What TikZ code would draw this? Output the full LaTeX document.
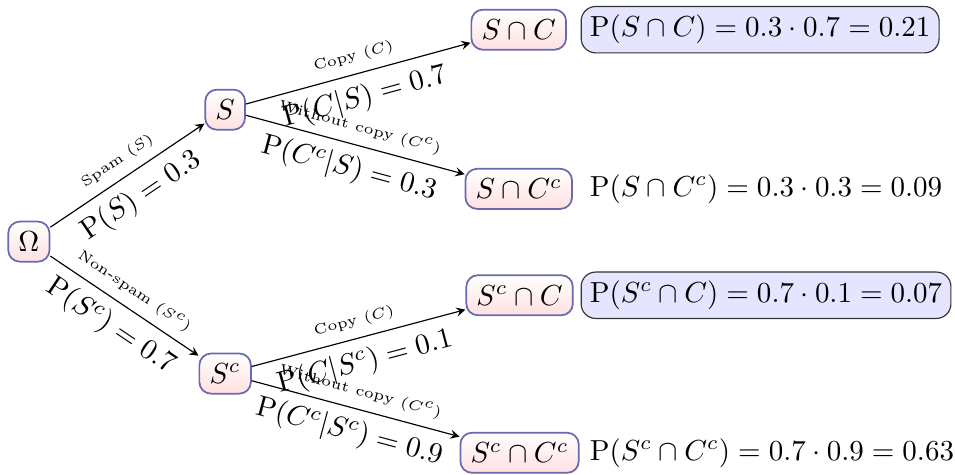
\documentclass[tikz,border=0pt]{standalone}
\usepackage{amsmath,amssymb}
\usepackage{tikz}

\definecolor{boxedge}{RGB}{105,105,175}

\begin{document}
\begin{tikzpicture}[>=stealth,
        event/.style={draw=boxedge, semithick, rounded corners=4pt, top color=white, bottom color=red!12, inner sep=3.5pt},
        result/.style={anchor=west, inner sep=3pt},
        marked/.style={draw=black!80, fill=blue!10, rounded corners=5pt},
        branch/.style={->, thin},
        small/.style={above, sloped, font=\tiny},
        prob/.style={below, sloped}]
        \useasboundingbox (0, 0) rectangle (11.58, -5.75);
        \node[event] (Om) at (0.35, -2.93) {$\Omega$};
        \node[event] (S) at (2.73, -1.33) {$S$};
        \node[event] (Sc) at (2.73, -4.53) {$S^c$};
        \node[event] (L1) at (6.29, -0.36) {$S\cap C$};
        \node[event] (L2) at (6.29, -2.29) {$S\cap C^c$};
        \node[event] (L3) at (6.30, -3.58) {$S^c\cap C$};
        \node[event] (L4) at (6.30, -5.49) {$S^c\cap C^c$};
        \node[result, marked] (R1) at (7.04, -0.36) {$\mathrm{P}(S\cap C) = 0.3\cdot 0.7 = 0.21$};
        \node[result] (R2) at (7.04, -2.29) {$\mathrm{P}(S\cap C^c) = 0.3\cdot 0.3 = 0.09$};
        \node[result, marked] (R3) at (7.04, -3.58) {$\mathrm{P}(S^c\cap C) = 0.7\cdot 0.1 = 0.07$};
        \node[result] (R4) at (7.04, -5.49) {$\mathrm{P}(S^c\cap C^c) = 0.7\cdot 0.9 = 0.63$};
        \draw[branch] (Om) to node[small] {Spam $(S)$} node[prob] {$\mathrm{P}(S) = 0.3$} (S);
        \draw[branch] (Om) to node[small] {Non-spam $(S^c)$} node[prob] {$\mathrm{P}(S^c) = 0.7$} (Sc);
        \draw[branch] (S) to node[small] {Copy $(C)$} node[prob] {$\mathrm{P}(C|S) = 0.7$} (L1);
        \draw[branch] (S) to node[small] {Without copy $(C^c)$} node[prob] {$\mathrm{P}(C^c|S) = 0.3$} (L2);
        \draw[branch] (Sc) to node[small] {Copy $(C)$} node[prob] {$\mathrm{P}(C|S^c) = 0.1$} (L3);
        \draw[branch] (Sc) to node[small] {Without copy $(C^c)$} node[prob] {$\mathrm{P}(C^c|S^c) = 0.9$} (L4);
    \end{tikzpicture}
\end{document}
